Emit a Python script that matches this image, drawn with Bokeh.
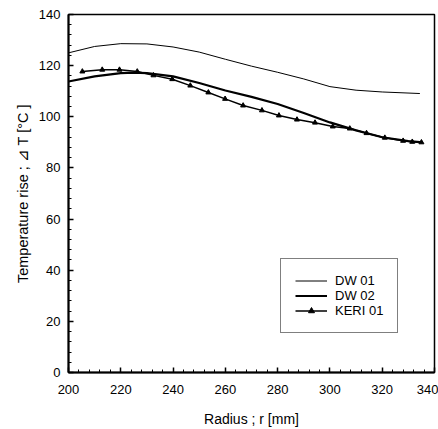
from bokeh.plotting import figure
from bokeh.models import Range1d, Legend, LegendItem, FixedTicker, Title
from bokeh.embed import file_html
from bokeh.resources import INLINE

# ---- data ----
dw01_r = [200, 210, 220, 230, 240, 250, 260, 270, 280, 290, 300, 310, 320, 334.4]
dw01_t = [125.0, 127.5, 128.6, 128.5, 127.3, 125.3, 122.5, 119.8, 117.4, 114.8, 111.8, 110.4, 109.7, 109.1]

dw02_r = [200, 210, 220, 225, 230, 240, 250, 260, 270, 280, 290, 300, 310, 320, 330, 335.5]
dw02_t = [113.8, 115.8, 117.1, 117.3, 117.1, 115.8, 113.2, 110.3, 107.8, 105.0, 101.5, 97.8, 94.7, 92.0, 90.5, 90.0]

keri_r = [205.3, 212.9, 219.5, 226.3, 232.5, 239.7, 246.6, 253.5, 259.9, 266.8, 274.0, 280.5,
          287.4, 294.3, 301.1, 307.6, 314.0, 321.0, 328.0, 331.5, 335.0]
keri_t = [117.7, 118.4, 118.4, 117.7, 116.2, 114.7, 112.2, 109.5, 107.0, 104.4, 102.5, 100.5,
          98.9, 97.7, 96.2, 95.4, 93.6, 91.8, 90.6, 90.2, 90.0]

x_ticks = [200, 220, 240, 260, 280, 300, 320, 340]
y_ticks = [0, 20, 40, 60, 80, 100, 120, 140]

FONT = "Liberation Sans"

p = figure(width=438, height=429, output_backend="svg", toolbar_location=None,
           x_range=Range1d(200, 340), y_range=Range1d(0, 140),
           min_border_left=68, min_border_right=4, min_border_top=14, min_border_bottom=57)
p.grid.visible = False
p.outline_line_color = "black"
p.outline_line_width = 1.5
p.background_fill_color = "white"
p.border_fill_color = "white"

for ax, ticks in ((p.xaxis[0], x_ticks), (p.yaxis[0], y_ticks)):
    ax.ticker = FixedTicker(ticks=ticks, minor_ticks=[t + d for t in ticks[:-1] for d in (4, 8, 12, 16)])
    ax.major_tick_in = 5
    ax.major_tick_out = 0
    ax.minor_tick_in = 3
    ax.minor_tick_out = 0
    ax.axis_line_width = 2
    ax.major_tick_line_width = 1.5
    ax.major_label_text_font = FONT
    ax.major_label_text_font_size = "13px"
    ax.major_label_text_color = "black"
    ax.axis_label_text_font = FONT
    ax.axis_label_text_font_size = "14px"
    ax.axis_label_text_font_style = "normal"
    ax.axis_label_text_color = "black"

p.xaxis.axis_label = "Radius ; r [mm]"
p.xaxis.major_label_standoff = 12
p.yaxis.major_label_standoff = 8
p.xaxis.axis_label_standoff = 14

ytitle = Title(text="Temperature rise ; ⊿ T [°C ]", align="center", offset=22, standoff=9,
               text_font=FONT, text_font_size="14.5px", text_font_style="normal", text_color="black")
p.add_layout(ytitle, "left")

r1 = p.line(dw01_r, dw01_t, line_color="black", line_width=1)
r2 = p.line(dw02_r, dw02_t, line_color="black", line_width=2.2)
r3 = p.line(keri_r, keri_t, line_color="black", line_width=1.5)
r3m = p.scatter(keri_r, keri_t, marker="triangle", size=5, fill_color="black", line_color="black")

legend = Legend(items=[LegendItem(label="DW 01", renderers=[r1]),
                       LegendItem(label="DW 02", renderers=[r2]),
                       LegendItem(label="KERI 01", renderers=[r3, r3m])],
                location=(212, 39), padding=14, spacing=0, margin=0,
                label_height=15, glyph_height=15, glyph_width=32, label_standoff=8,
                label_text_font=FONT, label_text_font_size="13px", label_text_color="black",
                border_line_color="black", border_line_width=1.5, background_fill_alpha=1)
p.add_layout(legend, "center")

open("out.html", "w").write(file_html(p, INLINE))
